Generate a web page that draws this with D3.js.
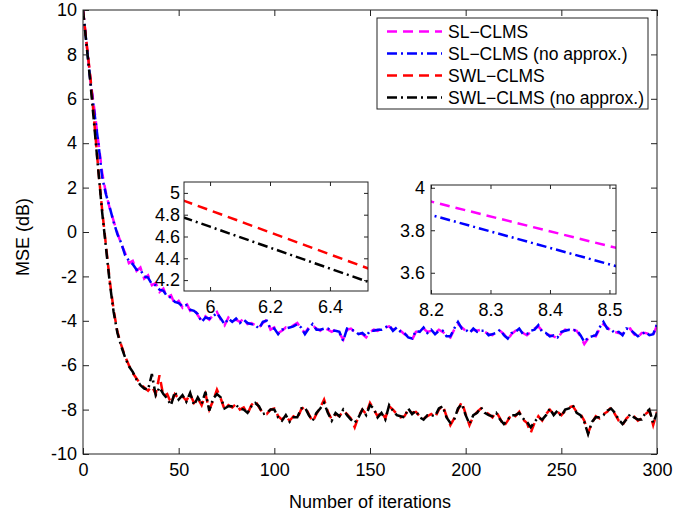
<!DOCTYPE html>
<html>
<head>
<meta charset="utf-8">
<script src="https://cdn.jsdelivr.net/npm/d3@7"></script>
<style>
body { margin: 0; background: #fff; }
text { font-family: "Liberation Sans", Arial, sans-serif; fill: #000; }
</style>
</head>
<body>
<svg id="chart"></svg>
<script>
// iterations are sampled every 2 steps, starting at 0
var iterStep = 2;

// SWL-CLMS (red, dashed)
var swl = [10, 8.4, 6.86, 4.84, 2.82, 1.0, -0.6, -2.2, -3.5, -4.5,
  -5.1, -5.6, -6.0, -6.35, -6.6, -6.85, -7.0, -7.15, -6.95, -7.3,
  -6.45, -7.4, -7.3, -7.7, -7.3, -7.5, -7.4, -7.6, -7.3, -7.7,
  -7.5, -7.8, -7.3, -8.0, -7.6, -7.1, -7.5, -8.0, -7.8, -7.9,
  -7.75, -8.0, -7.9, -8.2, -7.8, -7.6, -7.9, -8.15, -8.2, -8.0,
  -7.95, -8.3, -8.45, -8.3, -8.5, -8.3, -8.4, -8.0, -7.85, -8.2,
  -8.55, -8.2, -7.9, -7.55, -8.1, -8.45, -8.2, -8.3, -8.05, -8.2,
  -8.4, -8.8, -8.3, -8.0, -8.2, -7.7, -8.0, -8.3, -8.1, -8.4,
  -7.85, -8.0, -8.2, -8.35, -8.3, -8.0, -8.15, -8.1, -8.3, -8.4,
  -8.3, -8.2, -8.35, -8.0, -7.8, -8.3, -8.7, -8.4, -8.0, -7.65,
  -8.2, -8.7, -8.3, -8.1, -7.95, -8.1, -8.2, -8.35, -8.1, -8.4,
  -8.75, -8.5, -8.2, -8.3, -8.1, -8.45, -8.6, -9.05, -8.6, -8.3,
  -8.5, -8.2, -8.0, -8.2, -8.1, -8.25, -8.05, -7.9, -7.85, -8.1,
  -8.2, -8.5, -9.05, -8.6, -8.3, -8.4, -8.2, -8.1, -7.9, -8.2,
  -8.5, -8.7, -8.4, -8.25, -8.3, -8.5, -8.4, -8.2, -8.05, -8.7,
  -8.1];

// SWL-CLMS no approx. (black, dash-dot)
var swlNoApprox = [10, 8.3, 6.6, 4.69, 2.77, 0.9, -0.7, -2.3, -3.6, -4.55,
  -5.15, -5.65, -6.05, -6.3, -6.65, -6.9, -7.05, -7.1, -6.4, -7.35,
  -7.0, -7.3, -7.5, -7.8, -7.2, -7.55, -7.35, -7.65, -7.25, -7.8,
  -7.45, -7.75, -7.2, -8.05, -7.5, -7.3, -7.45, -7.95, -7.85, -7.85,
  -7.8, -7.95, -8.0, -8.15, -7.85, -7.7, -7.85, -8.2, -8.15, -8.0,
  -8.0, -8.35, -8.5, -8.25, -8.55, -8.35, -8.35, -7.95, -7.9, -8.25,
  -8.5, -8.15, -7.95, -7.7, -8.15, -8.5, -8.15, -8.3, -8.0, -8.25,
  -8.45, -8.6, -8.35, -8.0, -8.25, -7.8, -7.95, -8.35, -8.15, -8.45,
  -7.8, -8.05, -8.25, -8.3, -8.35, -7.95, -8.2, -8.05, -8.35, -8.45,
  -8.25, -8.25, -8.3, -7.95, -7.85, -8.35, -8.6, -8.45, -7.95, -7.75,
  -8.25, -8.65, -8.25, -8.15, -7.9, -8.15, -8.25, -8.3, -8.15, -8.45,
  -8.65, -8.45, -8.25, -8.25, -8.15, -8.4, -8.55, -8.8, -8.55, -8.35,
  -8.45, -8.25, -7.95, -8.25, -8.05, -8.3, -8.0, -7.95, -7.8, -8.15,
  -8.25, -8.55, -9.1, -8.55, -8.35, -8.35, -8.25, -8.05, -7.95, -8.15,
  -8.45, -8.65, -8.45, -8.2, -8.35, -8.45, -8.45, -8.15, -8.0, -8.6,
  -8.15];

// SL-CLMS (magenta, dashed)
var sl = [10, 8.4, 6.75, 5.48, 4.075, 2.675, 1.75, 1.05, 0.5, -0.05,
  -0.55, -0.95, -1.4, -1.3, -1.75, -1.6, -2.1, -1.95, -2.4, -2.3,
  -2.7, -2.55, -2.95, -2.85, -3.25, -3.1, -3.4, -3.2, -3.55, -3.45,
  -3.75, -4.0, -3.8, -3.95, -3.75, -3.6, -3.95, -4.2, -3.85, -4.0,
  -3.95, -4.05, -3.9, -4.15, -4.1, -4.2, -4.3, -4.1, -3.95, -4.4,
  -4.3, -4.55, -4.45, -4.3, -4.35, -4.2, -4.1, -4.35, -4.55, -4.3,
  -4.2, -4.35, -4.45, -4.3, -4.4, -4.5, -4.4, -4.55, -4.85, -4.4,
  -4.35, -4.5, -4.55, -4.6, -4.75, -4.5, -4.4, -4.45, -4.35, -4.3,
  -4.25, -4.4, -4.35, -4.45, -4.6, -4.7, -4.85, -4.5, -4.45, -4.35,
  -4.5, -4.45, -4.55, -4.4, -4.5, -4.65, -4.75, -4.4, -4.15, -4.3,
  -4.45, -4.5, -4.4, -4.45, -4.4, -4.5, -4.6, -4.65, -4.5, -4.45,
  -4.6, -4.85, -4.6, -4.45, -4.4, -4.55, -4.65, -4.5, -4.35, -4.25,
  -4.45, -4.6, -4.65, -4.7, -4.8, -4.55, -4.4, -4.45, -4.4, -4.45,
  -4.7, -5.05, -4.8, -4.65, -4.7, -4.35, -4.15, -4.3, -4.45, -4.5,
  -4.55, -4.6, -4.4, -4.35, -4.6, -4.75, -4.55, -4.55, -4.6, -4.65,
  -4.2];

// SL-CLMS no approx. (blue, dash-dot)
var slNoApprox = [10, 8.35, 6.7, 5.35, 4.027, 2.477, 1.7, 1.1, 0.45, -0.1,
  -0.5, -1.05, -1.3, -1.45, -1.7, -1.7, -2.0, -2.05, -2.35, -2.4,
  -2.6, -2.65, -2.9, -2.95, -3.15, -3.2, -3.35, -3.3, -3.5, -3.55,
  -3.7, -4.05, -3.85, -3.9, -3.8, -3.65, -3.9, -4.15, -3.9, -4.05,
  -3.9, -4.1, -3.95, -4.1, -4.15, -4.2, -4.35, -4.05, -4.0, -4.35,
  -4.35, -4.6, -4.4, -4.35, -4.3, -4.25, -4.15, -4.3, -4.6, -4.35,
  -4.15, -4.4, -4.4, -4.35, -4.35, -4.45, -4.45, -4.5, -4.9, -4.35,
  -4.4, -4.45, -4.6, -4.55, -4.7, -4.45, -4.45, -4.4, -4.4, -4.3,
  -4.2, -4.45, -4.3, -4.5, -4.55, -4.75, -4.8, -4.45, -4.5, -4.3,
  -4.55, -4.4, -4.6, -4.45, -4.45, -4.7, -4.7, -4.35, -4.05, -4.35,
  -4.4, -4.55, -4.35, -4.5, -4.45, -4.45, -4.65, -4.6, -4.55, -4.4,
  -4.65, -4.8, -4.55, -4.5, -4.35, -4.6, -4.6, -4.45, -4.4, -4.2,
  -4.5, -4.55, -4.7, -4.65, -4.75, -4.5, -4.45, -4.4, -4.45, -4.4,
  -4.65, -4.95, -4.75, -4.7, -4.65, -4.3, -4.05, -4.35, -4.4, -4.55,
  -4.5, -4.65, -4.35, -4.4, -4.55, -4.7, -4.6, -4.5, -4.65, -4.6,
  -4.15];

var legendLabels = ["SL\u2212CLMS", "SL\u2212CLMS (no approx.)", "SWL\u2212CLMS", "SWL\u2212CLMS (no approx.)"];
var xTicks = [0, 50, 100, 150, 200, 250, 300];
var yTicks = [-10, -8, -6, -4, -2, 0, 2, 4, 6, 8, 10];
var inset1XTicks = [6, 6.2, 6.4];
var inset1YTicks = [4.2, 4.4, 4.6, 4.8, 5];
var inset2XTicks = [8.2, 8.3, 8.4, 8.5];
var inset2YTicks = [3.6, 3.8, 4];

var W = 695, H = 518;
var DASH = "10,6", DASHDOT = "10,4,2,4";
var series = [
  { name: legendLabels[0], values: sl, color: "#ff00ff", dash: DASH },
  { name: legendLabels[1], values: slNoApprox, color: "#0000ff", dash: DASHDOT },
  { name: legendLabels[2], values: swl, color: "#ff0000", dash: DASH },
  { name: legendLabels[3], values: swlNoApprox, color: "#000000", dash: DASHDOT }
];

var svg = d3.select("#chart").attr("width", W).attr("height", H);
svg.append("rect").attr("width", W).attr("height", H).attr("fill", "#fff");
var defs = svg.append("defs");

// draws a boxed axes with inward ticks on every side
function drawBox(g, x, y, xt, yt, tick, xPad, yPad) {
  var fmt = function(d){ return +d.toFixed(1); };
  var x0 = x.range()[0], x1 = x.range()[1], y0 = y.range()[0], y1 = y.range()[1];
  var axes = [
    g.append("g").attr("transform", "translate(0," + y0 + ")")
      .call(d3.axisBottom(x).tickValues(xt).tickFormat(fmt).tickSizeInner(-tick).tickSizeOuter(0).tickPadding(xPad)),
    g.append("g").attr("transform", "translate(0," + y1 + ")")
      .call(d3.axisTop(x).tickValues(xt).tickFormat("").tickSizeInner(-tick).tickSizeOuter(0)),
    g.append("g").attr("transform", "translate(" + x0 + ",0)")
      .call(d3.axisLeft(y).tickValues(yt).tickFormat(fmt).tickSizeInner(-tick).tickSizeOuter(0).tickPadding(yPad)),
    g.append("g").attr("transform", "translate(" + x1 + ",0)")
      .call(d3.axisRight(y).tickValues(yt).tickFormat("").tickSizeInner(-tick).tickSizeOuter(0))
  ];
  axes.forEach(function(a){
    a.select(".domain").remove();
    a.selectAll("line").attr("stroke", "#222");
    a.selectAll("text").attr("font-size", 18).attr("fill", "#000")
      .style("font-family", '"Liberation Sans", Arial, sans-serif');
  });
  g.append("rect").attr("x", x0).attr("y", y1).attr("width", x1 - x0).attr("height", y0 - y1)
    .attr("fill", "none").attr("stroke", "#222").attr("stroke-width", 1);
}

function drawLines(g, x, y, list, id, width) {
  defs.append("clipPath").attr("id", id).append("rect")
    .attr("x", x.range()[0]).attr("y", y.range()[1])
    .attr("width", x.range()[1] - x.range()[0]).attr("height", y.range()[0] - y.range()[1]);
  var line = d3.line().x(function(d, i){ return x(i * iterStep); }).y(function(d){ return y(d); });
  var lg = g.append("g").attr("clip-path", "url(#" + id + ")");
  list.forEach(function(s){
    lg.append("path").attr("d", line(s.values)).attr("fill", "none")
      .attr("stroke", s.color).attr("stroke-width", width).attr("stroke-dasharray", s.dash);
  });
}

// main axes
var x = d3.scaleLinear().domain([0, 300]).range([83, 657]);
var y = d3.scaleLinear().domain([-10, 10]).range([454, 10]);
var main = svg.append("g");
drawLines(main, x, y, series, "clipMain", 2.5);
drawBox(main, x, y, xTicks, yTicks, 6, 9, 6);

svg.append("text").attr("x", 370).attr("y", 508).attr("text-anchor", "middle")
  .attr("font-size", 18).text("Number of iterations");
svg.append("text").attr("transform", "translate(29,237) rotate(-90)").attr("text-anchor", "middle")
  .attr("font-size", 18).text("MSE (dB)");

// inset 1 : SWL curves around iteration 6
var ix1 = d3.scaleLinear().domain([5.913, 6.527]).range([184, 368]);
var iy1 = d3.scaleLinear().domain([4.1, 5.1]).range([291, 182]);
var in1 = svg.append("g");
in1.append("rect").attr("x", 184).attr("y", 182).attr("width", 184).attr("height", 109).attr("fill", "#fff");
drawLines(in1, ix1, iy1, [series[2], series[3]], "clipIn1", 2.5);
drawBox(in1, ix1, iy1, inset1XTicks, inset1YTicks, 4, 9, 4);

// inset 2 : SL curves around iteration 8
var ix2 = d3.scaleLinear().domain([8.2, 8.511]).range([431, 616]);
var iy2 = d3.scaleLinear().domain([3.5, 4.013]).range([294, 185]);
var in2 = svg.append("g");
in2.append("rect").attr("x", 431).attr("y", 185).attr("width", 185).attr("height", 109).attr("fill", "#fff");
drawLines(in2, ix2, iy2, [series[0], series[1]], "clipIn2", 2.5);
drawBox(in2, ix2, iy2, inset2XTicks, inset2YTicks, 4, 9, 6);

// legend
var leg = svg.append("g");
leg.append("rect").attr("x", 377).attr("y", 18).attr("width", 271).attr("height", 91)
  .attr("fill", "#fff").attr("stroke", "#222").attr("stroke-width", 1);
series.forEach(function(s, i){
  var ly = 31.5 + i * 22;
  leg.append("line").attr("x1", 387).attr("x2", 442).attr("y1", ly).attr("y2", ly)
    .attr("stroke", s.color).attr("stroke-width", 2.5).attr("stroke-dasharray", s.dash);
  leg.append("text").attr("x", 448).attr("y", ly).attr("dy", "0.35em")
    .attr("font-size", 17.5).text(s.name);
});
</script>
</body>
</html>
